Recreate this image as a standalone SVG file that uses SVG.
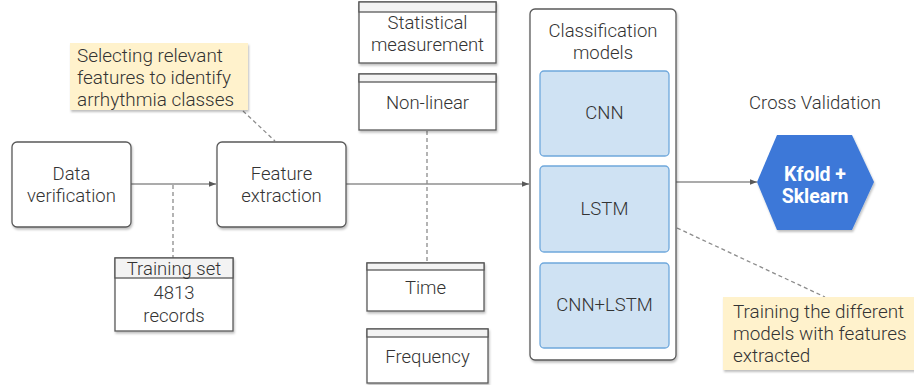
<svg xmlns="http://www.w3.org/2000/svg" width="914" height="385" viewBox="0 0 914 385">
<defs>
<style>
text{font-family:Roboto,"Liberation Sans",sans-serif;font-size:18.5px;font-weight:300;fill:#333;text-anchor:middle}
.l{text-anchor:start;font-size:18.9px}
.node{fill:#fff;stroke:#595959;stroke-width:1.3}
.hdr{fill:#f3f3f3;stroke:#595959;stroke-width:1.3}
.blue{fill:#cfe2f3;stroke:#6fa8dc;stroke-width:1.3}
.note{fill:#fff2cc;stroke:none}
.conn{stroke:#595959;stroke-width:1.2;fill:none}
.dash{stroke:#8c8c8c;stroke-width:1.3;fill:none;stroke-dasharray:4,3}
.w{fill:#fff;font-weight:bold;font-size:19.5px}
</style>
<filter id="sh" x="-10%" y="-10%" width="130%" height="130%">
<feDropShadow dx="1" dy="2" stdDeviation="1.2" flood-color="#000" flood-opacity="0.25"/>
</filter>
<marker id="ar" viewBox="0 0 10 10" refX="10" refY="5" markerWidth="7" markerHeight="7" orient="auto" markerUnits="userSpaceOnUse">
<path d="M0,1 L10,5 L0,9 z" fill="#595959"/>
</marker>
</defs>

<g id="connectors">
<line class="conn" x1="131" y1="184" x2="216" y2="184" marker-end="url(#ar)"/>
<line class="conn" x1="346" y1="184" x2="529" y2="184" marker-end="url(#ar)"/>
<line class="conn" x1="676" y1="182" x2="757" y2="182" marker-end="url(#ar)"/>
<line class="dash" x1="173" y1="185" x2="173" y2="258"/>
<line class="dash" x1="243" y1="111" x2="275" y2="141"/>
<line class="dash" x1="427" y1="131" x2="427" y2="262"/>
<line class="dash" x1="677" y1="228" x2="825" y2="297"/>
</g>

<g id="note-select">
<rect class="note" x="70" y="43" width="178" height="67" filter="url(#sh)"/>
<text class="l" x="77" y="62">Selecting relevant</text>
<text class="l" x="77" y="84">features to identify</text>
<text class="l" x="77" y="106">arrhythmia classes</text>
</g>

<g id="data-verification">
<rect class="node" x="12" y="142" width="119" height="85" rx="5" filter="url(#sh)"/>
<text x="71.5" y="180">Data</text>
<text x="71.5" y="202">verification</text>
</g>

<g id="training-set">
<rect class="node" x="115" y="258" width="118" height="73" filter="url(#sh)"/>
<rect class="hdr" x="115" y="258" width="118" height="20"/>
<text x="174" y="275">Training set</text>
<text x="174" y="299">4813</text>
<text x="174" y="322">records</text>
</g>

<g id="feature-extraction">
<rect class="node" x="217" y="142" width="129" height="85" rx="5" filter="url(#sh)"/>
<text x="281.5" y="180">Feature</text>
<text x="281.5" y="202">extraction</text>
</g>

<g id="statistical">
<rect class="node" x="359" y="2" width="137" height="61" filter="url(#sh)"/>
<rect class="hdr" x="359" y="2" width="137" height="10"/>
<text x="427.5" y="29">Statistical</text>
<text x="427.5" y="51">measurement</text>
</g>

<g id="non-linear">
<rect class="node" x="359" y="74" width="137" height="56" filter="url(#sh)"/>
<rect class="hdr" x="359" y="74" width="137" height="8"/>
<text x="427.5" y="109">Non-linear</text>
</g>

<g id="time">
<rect class="node" x="367" y="263" width="117" height="48" filter="url(#sh)"/>
<rect class="hdr" x="367" y="263" width="117" height="7"/>
<text x="425.5" y="294">Time</text>
</g>

<g id="frequency">
<rect class="node" x="367" y="329" width="121" height="54" filter="url(#sh)"/>
<rect class="hdr" x="367" y="329" width="121" height="8"/>
<text x="427.5" y="363">Frequency</text>
</g>

<g id="classification-models">
<rect class="node" x="530" y="9" width="146" height="351" rx="5" filter="url(#sh)"/>
<text x="603" y="37">Classification</text>
<text x="603" y="59">models</text>
</g>

<g id="cnn">
<rect class="blue" x="540" y="71" width="129" height="85" rx="4"/>
<text x="604.5" y="119">CNN</text>
</g>

<g id="lstm">
<rect class="blue" x="540" y="166" width="129" height="86" rx="4"/>
<text x="604.5" y="215">LSTM</text>
</g>

<g id="cnn-lstm">
<rect class="blue" x="540" y="263" width="129" height="85" rx="4"/>
<text x="604.5" y="311">CNN+LSTM</text>
</g>

<g id="cross-validation">
<text x="815" y="109">Cross Validation</text>
<polygon points="777,135 852,135 874,182 852,230 777,230 757,182" fill="#3c78d8" filter="url(#sh)"/>
<text class="w" x="815" y="181">Kfold +</text>
<text class="w" x="815" y="203">Sklearn</text>
</g>

<g id="note-training">
<rect class="note" x="723" y="297" width="195" height="73" filter="url(#sh)"/>
<text class="l" x="733" y="318">Training the different</text>
<text class="l" x="733" y="340">models with features</text>
<text class="l" x="733" y="362">extracted</text>
</g>
</svg>
